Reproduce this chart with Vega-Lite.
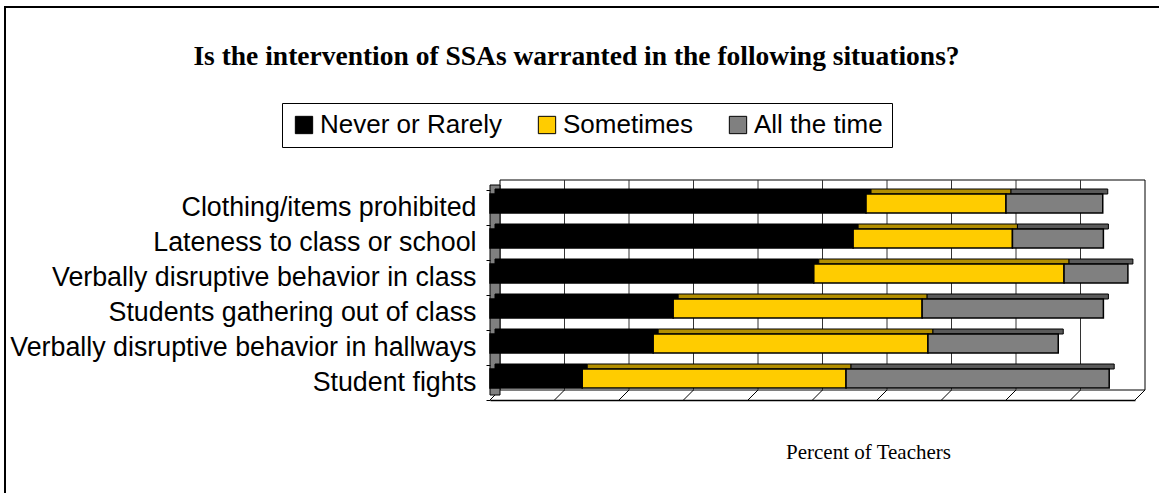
{
  "$schema": "https://vega.github.io/schema/vega-lite/v6.json",
  "width": 645,
  "height": 210,
  "autosize": "none",
  "padding": {"left": 490, "top": 190, "right": 24, "bottom": 93},
  "background": "white",
  "config": {"view": {"stroke": null}},
  "title": {
    "text": "Is the intervention of SSAs warranted in the following situations?",
    "font": "Liberation Serif",
    "fontSize": 27.5,
    "fontWeight": "bold",
    "color": "black",
    "anchor": "middle",
    "frame": "group",
    "dx": -236,
    "baseline": "middle",
    "offset": -78
  },
  "resolve": {"scale": {"color": "independent"}, "legend": {"color": "independent"}},
  "datasets": {
    "bars": [
      {"situation": "Clothing/items prohibited", "response": "Never or Rarely", "pct": 58.3},
      {"situation": "Clothing/items prohibited", "response": "Sometimes", "pct": 21.7},
      {"situation": "Clothing/items prohibited", "response": "All the time", "pct": 15.0},
      {"situation": "Lateness to class or school", "response": "Never or Rarely", "pct": 56.3},
      {"situation": "Lateness to class or school", "response": "Sometimes", "pct": 24.7},
      {"situation": "Lateness to class or school", "response": "All the time", "pct": 14.1},
      {"situation": "Verbally disruptive behavior in class", "response": "Never or Rarely", "pct": 50.2},
      {"situation": "Verbally disruptive behavior in class", "response": "Sometimes", "pct": 38.8},
      {"situation": "Verbally disruptive behavior in class", "response": "All the time", "pct": 9.9},
      {"situation": "Students gathering out of class", "response": "Never or Rarely", "pct": 28.4},
      {"situation": "Students gathering out of class", "response": "Sometimes", "pct": 38.6},
      {"situation": "Students gathering out of class", "response": "All the time", "pct": 28.1},
      {"situation": "Verbally disruptive behavior in hallways", "response": "Never or Rarely", "pct": 25.3},
      {"situation": "Verbally disruptive behavior in hallways", "response": "Sometimes", "pct": 42.6},
      {"situation": "Verbally disruptive behavior in hallways", "response": "All the time", "pct": 20.2},
      {"situation": "Student fights", "response": "Never or Rarely", "pct": 14.3},
      {"situation": "Student fights", "response": "Sometimes", "pct": 40.9},
      {"situation": "Student fights", "response": "All the time", "pct": 40.8}
    ],
    "grid": [
      {"g": 10}, {"g": 20}, {"g": 30}, {"g": 40}, {"g": 50},
      {"g": 60}, {"g": 70}, {"g": 80}, {"g": 90}
    ],
    "floor": [
      {"g": 0}, {"g": 10}, {"g": 20}, {"g": 30}, {"g": 40}, {"g": 50},
      {"g": 60}, {"g": 70}, {"g": 80}, {"g": 90}, {"g": 100}
    ],
    "one": [{}]
  },
  "layer": [
    {
      "data": {"name": "one"},
      "mark": {"type": "rect", "fill": null, "stroke": "black", "strokeWidth": 2, "xOffset": -485, "x2Offset": 40, "yOffset": -200.5, "y2Offset": 122.5},
      "encoding": {
        "x": {"datum": 0, "type": "quantitative"},
        "x2": {"datum": 100},
        "y": {"datum": "Clothing/items prohibited", "type": "nominal"},
        "y2": {"datum": "Student fights"}
      }
    },
    {
      "data": {"name": "one"},
      "mark": {"type": "rect", "fill": "white", "stroke": "black", "strokeWidth": 1, "xOffset": 10, "x2Offset": 10, "yOffset": -27.5, "y2Offset": 7.5},
      "encoding": {
        "x": {"datum": 0, "type": "quantitative"},
        "x2": {"datum": 100},
        "y": {"datum": "Clothing/items prohibited", "type": "nominal"},
        "y2": {"datum": "Student fights"}
      }
    },
    {
      "data": {"name": "grid"},
      "mark": {"type": "rule", "color": "#333333", "strokeWidth": 1, "xOffset": 10, "yOffset": -27.5, "y2Offset": 7.5},
      "encoding": {
        "x": {"field": "g", "type": "quantitative"},
        "y": {"datum": "Clothing/items prohibited", "type": "nominal"},
        "y2": {"datum": "Student fights"}
      }
    },
    {
      "data": {"name": "floor"},
      "mark": {"type": "rule", "color": "black", "strokeWidth": 1, "x2Offset": 10, "yOffset": 17.5, "y2Offset": 7.5},
      "encoding": {
        "x": {"field": "g", "type": "quantitative"},
        "x2": {"field": "g"},
        "y": {"datum": "Student fights", "type": "nominal"},
        "y2": {"datum": "Student fights"}
      }
    },
    {
      "data": {"name": "one"},
      "mark": {"type": "rect", "fill": "#808080", "stroke": "black", "strokeWidth": 1, "x2Offset": 10, "yOffset": -22.5, "y2Offset": 12.5},
      "encoding": {
        "x": {"datum": 0, "type": "quantitative"},
        "x2": {"datum": 0},
        "y": {"datum": "Clothing/items prohibited", "type": "nominal"},
        "y2": {"datum": "Student fights"}
      }
    },
    {
      "data": {"name": "bars"},
      "transform": [
        {"calculate": "indexof(['Never or Rarely','Sometimes','All the time'], datum.response)", "as": "rank"}
      ],
      "mark": {"type": "bar", "height": 5, "yOffset": -16, "xOffset": 5, "x2Offset": 5, "stroke": "black", "strokeWidth": 1},
      "encoding": {
        "y": {"field": "situation", "type": "nominal"},
        "x": {"field": "pct", "type": "quantitative", "stack": "zero"},
        "color": {
          "field": "response",
          "type": "nominal",
          "scale": {
            "domain": ["Never or Rarely", "Sometimes", "All the time"],
            "range": ["#000000", "#B38F00", "#5A5A5A"]
          },
          "legend": null
        },
        "order": {"field": "rank", "type": "quantitative"}
      }
    },
    {
      "data": {"name": "bars"},
      "transform": [
        {"calculate": "indexof(['Never or Rarely','Sometimes','All the time'], datum.response)", "as": "rank"}
      ],
      "mark": {"type": "bar", "height": 19, "yOffset": -4, "stroke": "black", "strokeWidth": 1.5},
      "encoding": {
        "y": {
          "field": "situation",
          "type": "nominal",
          "sort": null,
          "scale": {
            "domain": ["Clothing/items prohibited", "Lateness to class or school", "Verbally disruptive behavior in class", "Students gathering out of class", "Verbally disruptive behavior in hallways", "Student fights"],
            "paddingInner": 0,
            "paddingOuter": 0
          },
          "axis": {
            "title": null,
            "labelFont": "Liberation Sans",
            "labelFontSize": 26.8,
            "labelColor": "black",
            "labelPadding": 10,
            "tickBand": "extent",
            "tickSize": 4,
            "tickColor": "black",
            "domain": false,
            "labelLimit": 600
          }
        },
        "x": {
          "field": "pct",
          "type": "quantitative",
          "stack": "zero",
          "scale": {"domain": [0, 100]},
          "axis": {
            "title": "Percent of Teachers",
            "titleFont": "Liberation Serif",
            "titleFontSize": 21,
            "titleFontWeight": "normal",
            "titleColor": "black",
            "titleX": 378,
            "titleY": 52,
            "titleBaseline": "middle",
            "labels": false,
            "ticks": false,
            "grid": false,
            "domainColor": "black",
            "domainWidth": 1.5
          }
        },
        "color": {
          "field": "response",
          "type": "nominal",
          "scale": {
            "domain": ["Never or Rarely", "Sometimes", "All the time"],
            "range": ["#000000", "#FFCC00", "#808080"]
          },
          "legend": {
            "title": null,
            "orient": "none",
            "legendX": -208,
            "legendY": -87,
            "direction": "horizontal",
            "strokeColor": "black",
            "padding": 9,
            "symbolType": "square",
            "symbolSize": 300,
            "symbolStrokeColor": "black",
            "symbolStrokeWidth": 1,
            "symbolOpacity": 1,
            "labelFont": "Liberation Sans",
            "labelFontSize": 26,
            "labelColor": "black",
            "labelOffset": 3,
            "columnPadding": 31,
            "labelLimit": 300
          }
        },
        "order": {"field": "rank", "type": "quantitative"}
      }
    }
  ]
}
